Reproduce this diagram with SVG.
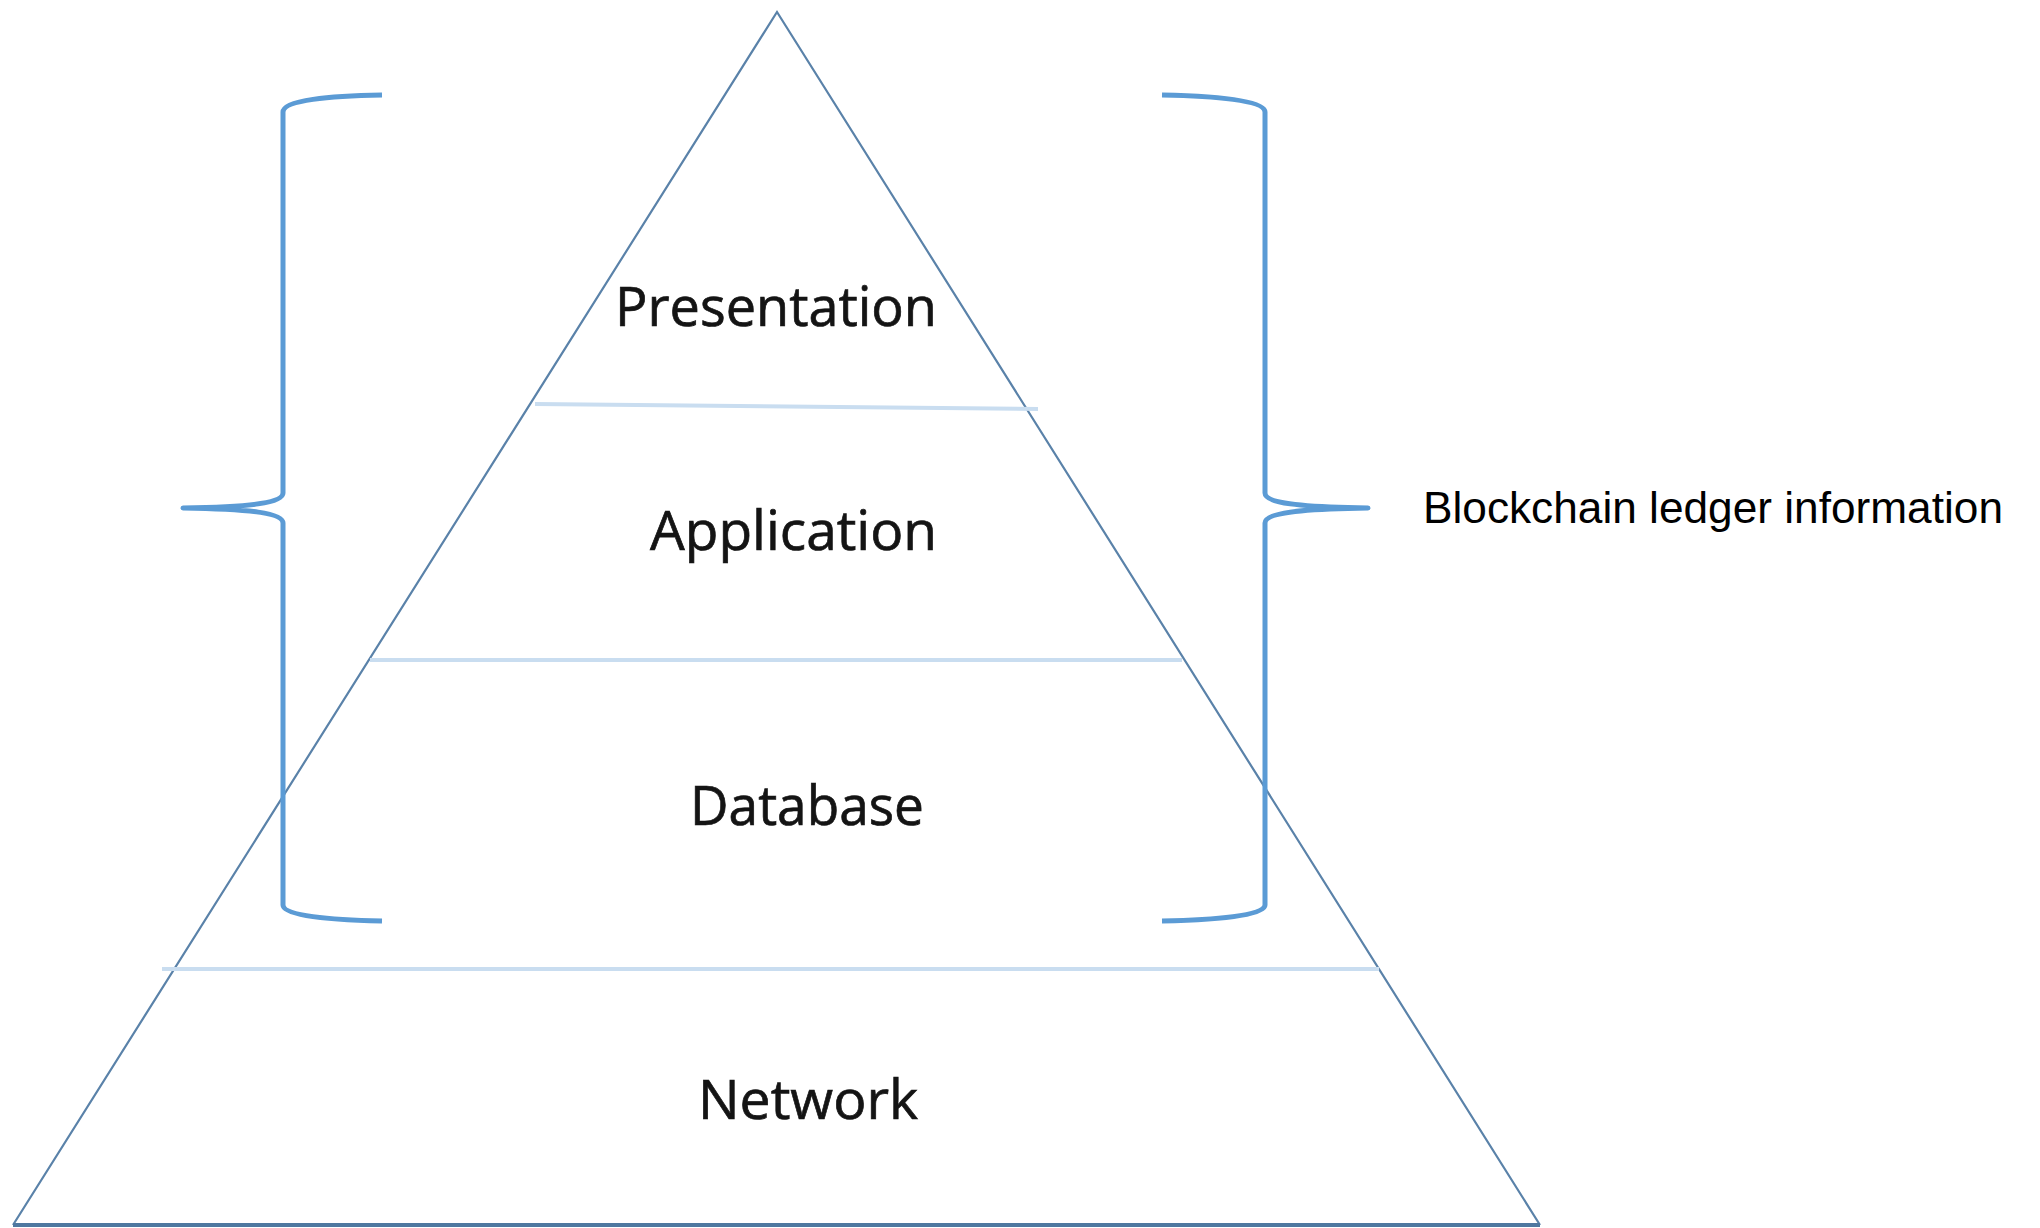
<svg xmlns="http://www.w3.org/2000/svg" width="2040" height="1228" viewBox="0 0 2040 1228">
  <style>
    .side { fill: none; stroke: #5a82a9; stroke-width: 2.2; stroke-linejoin: miter; }
    .base { fill: none; stroke: #4f78a0; stroke-width: 4; }
    .divider { fill: none; stroke: #c9ddf0; stroke-width: 4; }
    .brace { fill: none; stroke: #5b9bd5; stroke-width: 5; stroke-linecap: butt; stroke-linejoin: round; }
    .layer { font-family: "Open Sans", "Noto Sans", "Liberation Sans", sans-serif; font-size: 55px; fill: #141414; stroke: #141414; stroke-width: 0.7; }
    .note { font-family: "Liberation Sans", "Noto Sans", sans-serif; font-size: 44px; fill: #000; }
  </style>
  <rect width="2040" height="1228" fill="#ffffff"/>

  <!-- pyramid outline -->
  <g id="pyramid">
    <path class="side" d="M13,1225 L777,12 L1540,1225"/>
    <line class="base" x1="13" y1="1225" x2="1540" y2="1225"/>
  </g>

  <!-- horizontal layer dividers -->
  <g id="dividers">
    <line class="divider" x1="535" y1="404" x2="1038" y2="409"/>
    <line class="divider" x1="370" y1="660" x2="1182" y2="660"/>
    <line class="divider" x1="162" y1="969" x2="1379" y2="969"/>
  </g>

  <!-- layer names -->
  <g id="layer-presentation">
    <text class="layer" x="615" y="326" textLength="322" lengthAdjust="spacingAndGlyphs">Presentation</text>
  </g>
  <g id="layer-application">
    <text class="layer" x="650" y="550" textLength="287" lengthAdjust="spacingAndGlyphs">Application</text>
  </g>
  <g id="layer-database">
    <text class="layer" x="690" y="825" textLength="234" lengthAdjust="spacingAndGlyphs">Database</text>
  </g>
  <g id="layer-network">
    <text class="layer" x="698" y="1119" textLength="220" lengthAdjust="spacingAndGlyphs">Network</text>
  </g>

  <!-- curly braces spanning the top three layers -->
  <g id="brace-left">
    <path class="brace" d="M382,95 C330,96 283,100 283,112 L283,493 C283,503 250,507 183,508 C250,509 283,513 283,523 L283,905 C283,916 330,920 382,921"/>
  </g>
  <g id="brace-right">
    <path class="brace" d="M1162,95 C1214,96 1265,100 1265,112 L1265,493 C1265,503 1298,507 1368,508 C1298,509 1265,513 1265,523 L1265,905 C1265,916 1214,920 1162,921"/>
  </g>

  <g id="label-ledger">
    <text class="note" x="1423" y="523" textLength="580" lengthAdjust="spacingAndGlyphs">Blockchain ledger information</text>
  </g>
</svg>
